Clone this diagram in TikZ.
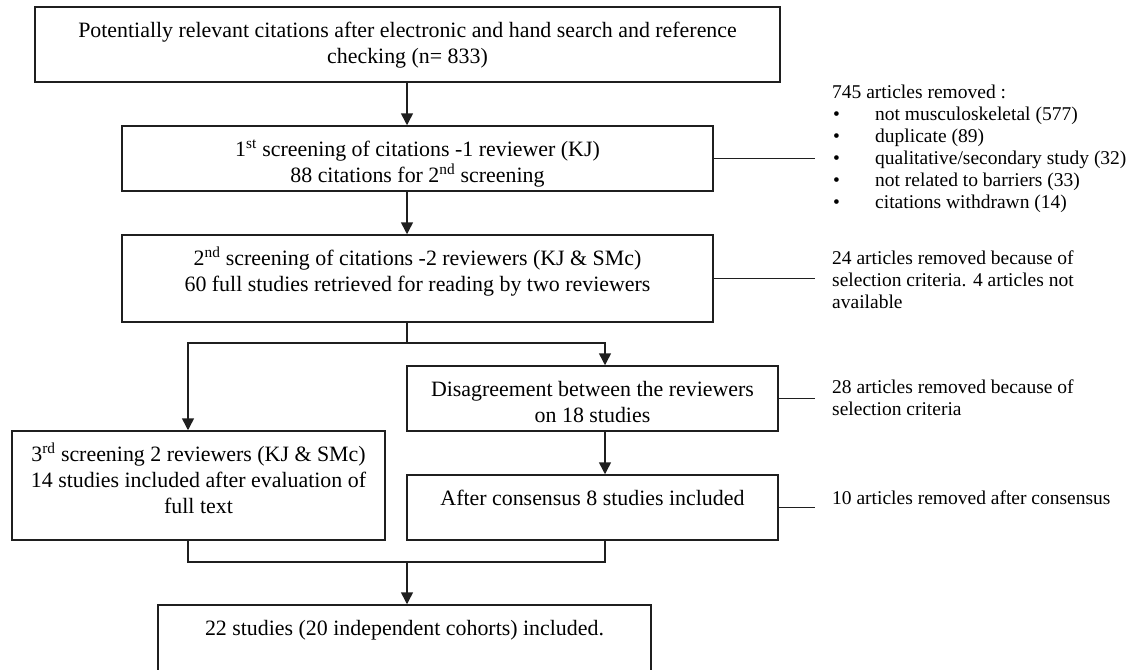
\documentclass[tikz,border=0pt]{standalone}
\usepackage{fontspec}
\setmainfont{Liberation Serif}
\usetikzlibrary{arrows.meta}
\newcommand\mfont{\fontsize{21.9}{26}\selectfont}
\newcommand\sfont{\fontsize{19.5}{22}\selectfont}
\newcommand\bxt[3]{\parbox[c][#2pt][t]{#1pt}{\centering\vspace*{12pt}\strut #3}}
\newcommand\blt{\makebox[43pt][l]{\hspace{1pt}•}}
\tikzset{
  box/.style={draw=black!88, line width=1.5pt, inner sep=0pt, font=\mfont},
  arr/.style={draw=black!88, line width=1.5pt, -{Triangle[length=12pt,width=12pt]}},
  ln/.style={draw=black!88, line width=1.5pt},
  side/.style={anchor=west, align=left, inner sep=0pt, font=\sfont},
}
\begin{document}
\begin{tikzpicture}[x=1pt,y=-1pt]
\useasboundingbox (0,0) rectangle (1129,669);
% trunk coordinates
\coordinate (tx) at (407,0);
\coordinate (lx) at (188,0);
\coordinate (rx) at (605,0);
\coordinate (cx) at (815,0);
\coordinate (sp) at (407,343);
\coordinate (mg) at (407,562);
% boxes
\node[box] (b1) at (407.5,44.5) {\bxt{745}{75}{Potentially relevant citations after electronic and hand search and reference\\ checking (n= 833)}};
\node[box] (b2) at (417.5,158.5) {\bxt{591}{65}{1\textsuperscript{st} screening of citations -1 reviewer (KJ)\\ 88 citations for 2\textsuperscript{nd} screening}};
\node[box] (b3) at (417.5,278.5) {\bxt{591}{87}{2\textsuperscript{nd} screening of citations -2 reviewers (KJ \& SMc)\\ 60 full studies retrieved for reading by two reviewers}};
\node[box] (dis) at (592.5,398.5) {\bxt{371}{65}{Disagreement between the reviewers\\ on 18 studies}};
\node[box] (third) at (198.5,485.5) {\bxt{373}{109}{3\textsuperscript{rd} screening 2 reviewers (KJ \& SMc)\\ 14 studies included after evaluation of\\ full text}};
\node[box] (after) at (592.5,507.5) {\bxt{371}{65}{After consensus 8 studies included}};
\node[box] (fin) at (404.5,639) {\bxt{493}{68}{22 studies (20 independent cohorts) included.}};
% side texts
\node[side] (s1) at (832,149) {745 articles removed :\\
\blt not musculoskeletal (577)\\
\blt duplicate (89)\\
\blt qualitative/secondary study (32)\\
\blt not related to barriers (33)\\
\blt citations withdrawn (14)};
\node[side] (s2) at (832,280) {24 articles removed because of\\ selection criteria. 4 articles not\\ available};
\node[side] (s3) at (832,398) {28 articles removed because of\\ selection criteria};
\node[side] (s4) at (832,498) {10 articles removed after consensus};
% main flow
\draw[arr] (b1.south -| tx) -- (b2.north -| tx);
\draw[arr] (b2.south -| tx) -- (b3.north -| tx);
\draw[ln] (b3.south -| sp) -- (sp);
\draw[arr] (sp) -| (third.north -| lx);
\draw[arr] (sp) -| (dis.north -| rx);
\draw[arr] (dis.south -| rx) -- (after.north -| rx);
\draw[ln] (third.south -| lx) |- (mg);
\draw[ln] (after.south -| rx) |- (mg);
\draw[arr] (mg) -- (fin.north -| mg);
% side connectors
\draw[ln] (b2.east) -- (b2.east -| cx);
\draw[ln] (b3.east) -- (b3.east -| cx);
\draw[ln] (dis.east) -- (dis.east -| cx);
\draw[ln] (after.east) -- (after.east -| cx);
\end{tikzpicture}
\end{document}
